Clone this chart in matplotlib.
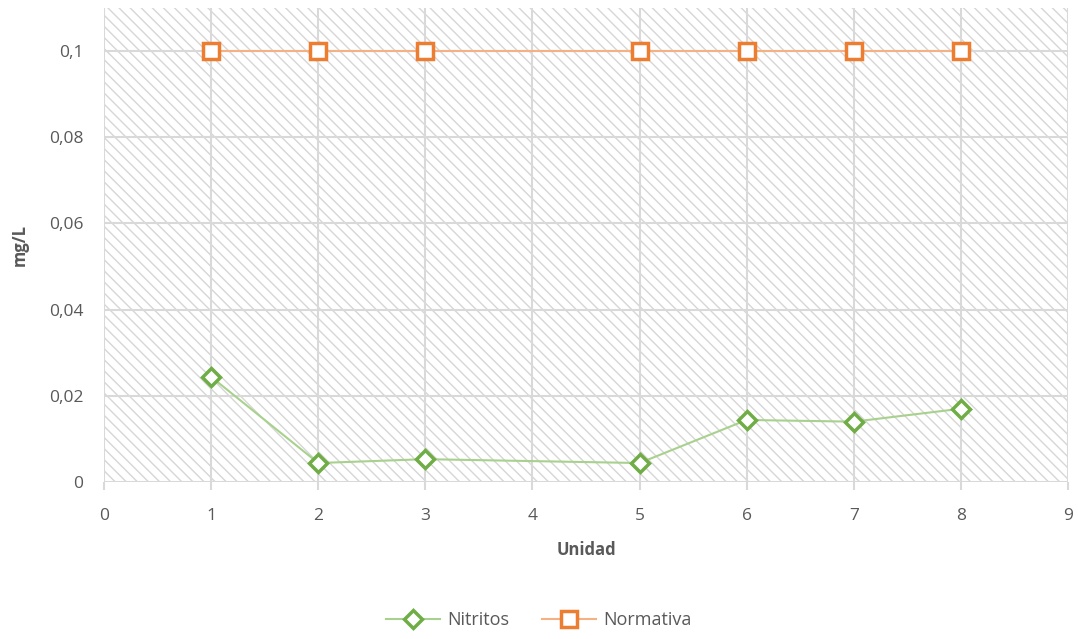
import matplotlib
matplotlib.use("Agg")
import matplotlib.pyplot as plt
from matplotlib.ticker import FuncFormatter

## data
unidad = [1, 2, 3, 5, 6, 7, 8]
nitritos = [0.0244, 0.0044, 0.0053, 0.0044, 0.0144, 0.0140, 0.0170]
normativa = [0.1, 0.1, 0.1, 0.1, 0.1, 0.1, 0.1]
yticks = [0, 0.02, 0.04, 0.06, 0.08, 0.1]
xticks = list(range(0, 10))

plt.rcParams['font.family'] = ['Open Sans', 'DejaVu Sans']
plt.rcParams['hatch.color'] = '#d6d6d6'
plt.rcParams['hatch.linewidth'] = 1.0

fig = plt.figure(figsize=(10.78, 6.39), dpi=100)
ax = fig.add_axes([0.0965, 0.2457, 0.8942, 0.7418])

# hatched plot area background
ax.patch.set_facecolor('white')
ax.patch.set_hatch('\\\\\\')
ax.patch.set_edgecolor('#d6d6d6')
ax.patch.set_linewidth(0)

ax.plot(unidad, nitritos, color='#a9d18e', lw=1.5, marker='D', ms=9,
        mfc='white', mec='#70ad47', mew=2.5, label='Nitritos', zorder=3)
ax.plot(unidad, normativa, color='#f4b183', lw=1.5, marker='s', ms=11,
        mfc='white', mec='#ed7d31', mew=2.5, label='Normativa', zorder=3)

ax.set_xlim(0, 9)
ax.set_ylim(0, 0.11)
ax.set_xticks(xticks)
ax.set_yticks(yticks)
ax.yaxis.set_major_formatter(FuncFormatter(lambda v, p: '0' if v == 0 else ('%g' % v).replace('.', ',')))

ax.grid(True, color='#d9d9d9', lw=1.5)
ax.set_axisbelow(True)
for s in ax.spines.values():
    s.set_visible(False)
ax.tick_params(axis='x', colors='#d9d9d9', length=6, width=1.5, labelcolor='#595959', labelsize=12.5, pad=13)
ax.tick_params(axis='y', length=0, labelcolor='#595959', labelsize=12.5, pad=15)

ax.set_xlabel('Unidad', fontsize=12, fontweight='bold', color='#595959', labelpad=12)
ax.set_ylabel('mg/L', fontsize=12, fontweight='bold', color='#595959', labelpad=14)

fig.legend(loc='center', bbox_to_anchor=(0.5, 0.029), ncol=2, frameon=False,
           fontsize=13, labelcolor='#595959', handlelength=3, handletextpad=0.4,
           columnspacing=1.8)

fig.savefig('out.png', dpi=100)
